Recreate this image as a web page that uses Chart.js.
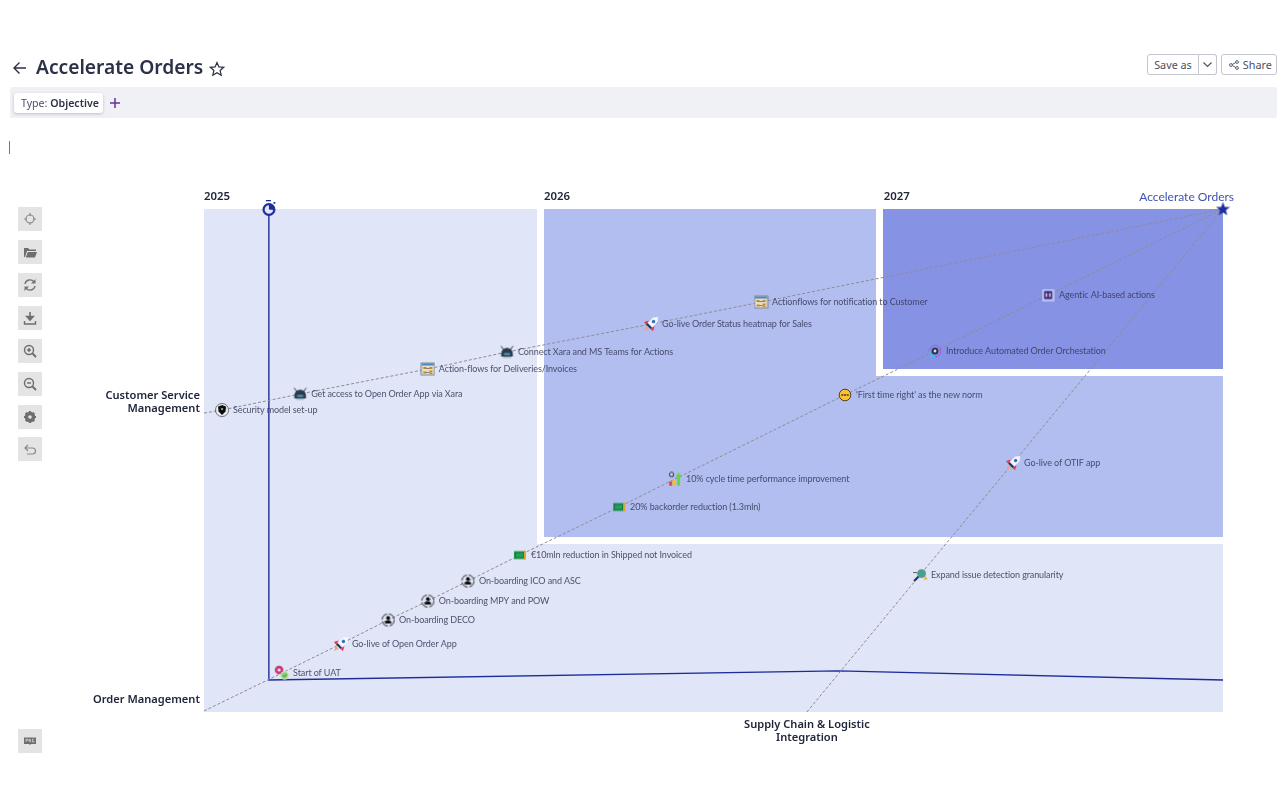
<!DOCTYPE html>
<html>
<head>
<meta charset="utf-8">
<title>Accelerate Orders</title>
<script src="https://cdn.jsdelivr.net/npm/chart.js@4"></script>
<style>
	html, body { margin: 0; padding: 0; background: #fff; width: 1280px; height: 800px; overflow: hidden; font-family: "Noto Sans", sans-serif; color: #2b3147; }
	#roadmap { position: absolute; left: 0; top: 0; }
	.abs { position: absolute; }
	#title { left: 36px; top: 53px; font-size: 19.2px; font-weight: 600; line-height: 28px; white-space: nowrap; }
	#filterBar { left: 10px; top: 87px; width: 1267px; height: 31px; background: #f0f1f5; border-radius: 2px; }
	#chip { left: 14px; top: 93px; width: 89px; height: 20px; background: #fff; border-radius: 3px; box-shadow: 0 1px 3px rgba(40,40,70,.25); font-size: 10.6px; line-height: 20px; text-indent: 7px; color: #4b5063; white-space: nowrap; }
	#chip b { color: #2b3147; font-weight: 600; }
	#caret { left: 9px; top: 141px; width: 1px; height: 13px; background: #777; }
	.btn { top: 54px; height: 19px; border: 1px solid #c3c6d1; background: #fff; font-size: 10.8px; line-height: 19px; color: #4b5063; box-sizing: content-box; text-align: center; }
	.tool { left: 18px; width: 24px; height: 24px; background: #e4e4e4; }
	.tool svg { display: block; width: 24px; height: 24px; }
</style>
</head>
<body>
<canvas id="roadmap" width="1280" height="800"></canvas>

<svg class="abs" style="left:12px;top:60px" width="16" height="16" viewBox="0 0 16 16"><path d="M14 8H2.5M7.5 2.5 2 8l5.500 5.500" fill="none" stroke="#2b3147" stroke-width="1.400"/></svg>
<div class="abs" id="title">Accelerate Orders</div>
<svg class="abs" style="left:209px;top:61px" width="16" height="16" viewBox="0 0 16 16"><path d="M8 1.500 9.900 5.900 14.700 6.300 11.100 9.500 12.200 14.200 8 11.700 3.800 14.200 4.900 9.500 1.300 6.300 6.100 5.900Z" fill="none" stroke="#2b3147" stroke-width="1.200"/></svg>
<div class="abs btn" style="left:1147px;width:50px;border-radius:3px 0 0 3px">Save as</div>
<div class="abs btn" style="left:1199px;width:17px;border-left:none;border-radius:0 3px 3px 0"><svg width="11" height="11" viewBox="0 0 11 11" style="margin-top:4px"><path d="M1.500 3.500 5.500 7.500 9.500 3.500" fill="none" stroke="#4b5063" stroke-width="1.100"/></svg></div>
<div class="abs btn" style="left:1221px;width:54px;border-radius:3px;text-align:left"><svg width="10" height="10" viewBox="0 0 10 10" style="margin:0 1px 0 7px;vertical-align:-1px"><g fill="none" stroke="#4b5063" stroke-width=".9"><circle cx="2" cy="5" r="1.400"/><circle cx="8" cy="2" r="1.400"/><circle cx="8" cy="8" r="1.400"/><path d="M3.300 4.400 6.700 2.600M3.300 5.600 6.700 7.400"/></g></svg> Share</div>
<div class="abs" id="filterBar"></div>
<div class="abs" id="chip">Type: <b>Objective</b></div>
<svg class="abs" style="left:109px;top:97px" width="12" height="12" viewBox="0 0 12 12"><path d="M6 1v10M1 6h10" stroke="#6b2fa0" stroke-width="1.500"/></svg>
<div class="abs" id="caret"></div>

<div class="abs tool" style="top:207px"><svg viewBox="0 0 24 24"><g fill="none" stroke="#8a8a8a" stroke-width="1.200"><circle cx="12" cy="12" r="4"/><path d="M12 6v3M12 15v3M6 12h3M15 12h3"/></g></svg></div>
<div class="abs tool" style="top:240px"><svg viewBox="0 0 24 24"><path d="M6 8h4l1.500 1.500H18V11H9l-2 6H6ZM9.800 12H19l-2 5.500H7.800Z" fill="#6e6e6e"/></svg></div>
<div class="abs tool" style="top:273px"><svg viewBox="0 0 24 24"><g fill="none" stroke="#767676" stroke-width="1.400"><path d="M7 11a5 5 0 0 1 9-2M17 13a5 5 0 0 1-9 2"/></g><path d="M17.500 6v4.500H13ZM6.500 18v-4.500H11Z" fill="#767676"/></svg></div>
<div class="abs tool" style="top:306px"><svg viewBox="0 0 24 24"><path d="M12 6v7M8.800 10.500 12 14l3.200-3.500Z" stroke="#6e6e6e" stroke-width="1.600" fill="#6e6e6e"/><path d="M6.500 15v3h11v-3" fill="none" stroke="#6e6e6e" stroke-width="1.400"/></svg></div>
<div class="abs tool" style="top:339px"><svg viewBox="0 0 24 24"><g fill="none" stroke="#6e6e6e" stroke-width="1.400"><circle cx="11" cy="11" r="4.500"/><path d="M14.500 14.500 18 18" stroke-width="2"/><path d="M9 11h4M11 9v4"/></g></svg></div>
<div class="abs tool" style="top:372px"><svg viewBox="0 0 24 24"><g fill="none" stroke="#6e6e6e" stroke-width="1.400"><circle cx="11" cy="11" r="4.500"/><path d="M14.500 14.500 18 18" stroke-width="2"/><path d="M9 11h4"/></g></svg></div>
<div class="abs tool" style="top:405px"><svg viewBox="0 0 24 24"><circle cx="12" cy="12" r="3.800" fill="none" stroke="#6e6e6e" stroke-width="3"/><path d="M12 6v12M6 12h12M7.800 7.800l8.400 8.400M16.200 7.800l-8.400 8.400" stroke="#6e6e6e" stroke-width="2.200"/><circle cx="12" cy="12" r="1.800" fill="#e4e4e4"/></svg></div>
<div class="abs tool" style="top:437px"><svg viewBox="0 0 24 24"><path d="M10 8 7 11l3 3M7 11h7.500a3 3 0 0 1 0 6H9" fill="none" stroke="#8a8a8a" stroke-width="1.200"/></svg></div>
<div class="abs tool" style="top:729px"><svg viewBox="0 0 24 24"><path d="M6 8.500h12v6.500h-5l-1 1-1-1H6Z" fill="#6e6e6e"/><path d="M8 10v3M8 10h1.500v1.300H8M11 13v-3l1.500 3v-3M16 10h-1.500v3H16v-1.300" fill="none" stroke="#e4e4e4" stroke-width=".6"/></svg></div>

<script>
// years on x (2025 = left edge), capability levels on y (0 = bottom)
var yearTicks = [2025, 2026, 2027];
var axisNames = ["Customer Service|Management", "Order Management", "Supply Chain & Logistic|Integration"];
var axisNameX = [2024.988, 2024.988, 2026.775];
var axisNameY = [1.887, 0.075, -0.075];

// customer service line
var csmLabels = ["Security model set-up", "Get access to Open Order App via Xara", "Action-flows for Deliveries/Invoices", "Connect Xara and MS Teams for Actions", "Go-live Order Status heatmap for Sales", "Actionflows for notification to Customer"];
var csmIcons = ["shield", "bot", "flows", "bot", "rocket", "flows"];
var csmX = [2025.053, 2025.283, 2025.659, 2025.892, 2026.316, 2026.640];
var csmY = [1.801, 1.897, 2.046, 2.147, 2.314, 2.445];

// order management line
var omLabels = ["Start of UAT", "Go-live of Open Order App", "On-boarding DECO", "On-boarding MPY and POW", "On-boarding ICO and ASC", "€10mln reduction in Shipped not Invoiced", "20% backorder reduction (1.3mln)", "10% cycle time performance improvement", "'First time right' as the new norm", "Introduce Automated Order Orchestation", "Agentic AI-based actions"];
var omIcons = ["uat", "rocket", "person", "person", "person", "money", "money", "bars", "fresh", "orbit", "ai"];
var omX = [2025.230, 2025.403, 2025.542, 2025.659, 2025.777, 2025.930, 2026.222, 2026.387, 2026.887, 2027.152, 2027.485];
var omY = [0.233, 0.406, 0.549, 0.662, 0.781, 0.936, 1.223, 1.390, 1.891, 2.153, 2.487];

// supply chain line
var scLabels = ["Expand issue detection granularity", "Go-live of OTIF app"];
var scIcons = ["scope", "rocket"];
var scX = [2027.108, 2027.382];
var scY = [0.817, 1.485];

// where each dashed line starts and the objective they all end on
var startX = [2025.000, 2025.000, 2026.775];
var startY = [1.783, 0.006, 0.000];
var goalX = [2028];
var goalY = [3];
var goalName = "Accelerate Orders";

// today marker
var todayX = [2025.191, 2025.191, 2026.867, 2028];
var todayY = [3, 0.191, 0.245, 0.191];

// coloured regions, each one x0, x1, y0, y1
var zoneLight = [[2025, 2025.980, 0, 3], [2025.980, 2028, 0, 1.002]];
var zoneMiddle = [[2026.001, 2026.978, 1.044, 3], [2026.978, 2028, 1.044, 2.004]];
var zoneDark = [[2026.999, 2028, 2.046, 3]];

var NAVY = "#1c2c9a";

function makeIcon(w, h, draw){
	var c = document.createElement("canvas");
	c.width = w;
	c.height = h;
	draw(c.getContext("2d"));
	return c;
}

function disc(g, x, y, r, fill, stroke, lw){
	g.beginPath();
	g.arc(x, y, r, 0, Math.PI * 2);
	if(fill){ g.fillStyle = fill; g.fill(); }
	if(stroke){ g.strokeStyle = stroke; g.lineWidth = lw || 1; g.stroke(); }
}

function poly(g, pts, fill){
	g.beginPath();
	g.moveTo(pts[0], pts[1]);
	for(var i = 2; i < pts.length; i += 2){ g.lineTo(pts[i], pts[i + 1]); }
	g.closePath();
	g.fillStyle = fill;
	g.fill();
}

var icons = {
	shield: makeIcon(16, 16, function(g){
		disc(g, 8, 8, 6.500, "rgba(255,255,255,.6)", "#333", 0.7);
		poly(g, [4,4.500, 8,3, 12,4.500, 11.500,9.500, 8,13, 4.500,9.500], "#0c0c0c");
		disc(g, 8, 7, 1.100, "#bbb");
	}),
	bot: makeIcon(15, 15, function(g){
		g.strokeStyle = "#222";
		g.lineWidth = 0.9;
		g.beginPath(); g.moveTo(1.500,1.500); g.lineTo(4,5); g.moveTo(13.500,1.500); g.lineTo(11,5); g.stroke();
		g.fillStyle = "#2b3a4a";
		g.beginPath(); g.arc(7.500, 9, 5.800, Math.PI, 0); g.lineTo(13.300, 12); g.lineTo(1.700, 12); g.closePath(); g.fill();
		g.fillStyle = "#4aa0cc";
		g.fillRect(4.500, 8.500, 6, 2);
		g.fillStyle = "#a9bcc4";
		g.fillRect(3.500, 12, 8, 1.500);
	}),
	flows: makeIcon(15, 14, function(g){
		g.fillStyle = "#e9dfc9"; g.fillRect(1, 1, 13, 12);
		g.strokeStyle = "#7d8796"; g.lineWidth = 1; g.strokeRect(1, 1, 13, 12);
		g.fillStyle = "#4b86c5"; g.fillRect(1.500, 1.500, 12, 2);
		g.fillStyle = "#b98a2c";
		g.fillRect(3, 5, 3, 2); g.fillRect(9, 5, 3, 2); g.fillRect(3, 9.500, 3, 2); g.fillRect(9, 8.500, 3, 1.500); g.fillRect(9, 10.500, 3, 1.500);
		g.fillStyle = "#555"; g.fillRect(6, 6, 3, 0.700); g.fillRect(6, 10, 3, 0.700);
	}),
	rocket: makeIcon(16, 16, function(g){
		poly(g, [15,1, 10,1.500, 4.500,7, 9,11.500, 14.500,6], "#f6f6ff");
		disc(g, 10.500, 5.500, 1.700, "#2a6fb8");
		poly(g, [4.500,7, 9,11.500, 7.500,13, 3,8.500], "#1f2f58");
		poly(g, [6,4.500, 1,6, 3,8.500], "#e52b46");
		poly(g, [11.500,10, 10,15, 7.500,13], "#e52b46");
		poly(g, [3,10, 6,13, 1,15], "#eda873");
	}),
	person: makeIcon(15, 15, function(g){
		g.setLineDash([7.500, 2]);
		disc(g, 7.500, 7.500, 6, null, "#111", 0.9);
		g.setLineDash([]);
		disc(g, 7.500, 5.500, 1.900, "#0c0c0c");
		g.fillStyle = "#0c0c0c";
		g.beginPath(); g.arc(7.500, 11, 3.300, Math.PI, 0); g.closePath(); g.fill();
	}),
	money: makeIcon(14, 11, function(g){
		g.fillStyle = "#25a058"; g.fillRect(1, 1.500, 11, 8);
		g.strokeStyle = "#146b3e"; g.lineWidth = 0.8; g.strokeRect(2.500, 3, 8, 5);
		g.fillStyle = "#d9a528"; g.fillRect(11, 1, 2, 9);
	}),
	uat: makeIcon(16, 16, function(g){
		disc(g, 5, 5, 4.300, "#c83a78");
		disc(g, 5, 5, 1.600, "#f7dfe8");
		disc(g, 10.500, 10.500, 3.900, "#8fd07a", "#d7f0ce", 0.8);
		g.strokeStyle = "#2f7d34"; g.lineWidth = 0.9;
		g.beginPath(); g.moveTo(9,10.500); g.lineTo(10.200,11.800); g.lineTo(12.300,9.300); g.stroke();
	}),
	bars: makeIcon(14, 15, function(g){
		disc(g, 3.500, 3, 2, "#dfe6f4", "#33415c", 1.100);
		g.fillStyle = "#e14b4b"; g.fillRect(1, 10, 3, 4.500);
		g.fillStyle = "#f0c02f"; g.fillRect(4.500, 8, 3, 6.500);
		g.fillStyle = "#63d64a"; g.fillRect(9, 5, 3, 9.500);
		poly(g, [7,5.500, 10.500,1, 14,5.500], "#63d64a");
	}),
	fresh: makeIcon(14, 14, function(g){
		disc(g, 7, 7, 5.800, "#fdc02f", "#4d4327", 1);
		g.fillStyle = "#3a2f12";
		g.fillRect(3.300, 6.300, 2, 1.400); g.fillRect(6, 6.300, 2, 1.400); g.fillRect(8.700, 6.300, 2, 1.400);
	}),
	orbit: makeIcon(14, 14, function(g){
		disc(g, 7, 7, 5.800, null, "#b44fe0", 0.9);
		g.strokeStyle = "#37c6e8"; g.lineWidth = 1.400;
		g.beginPath(); g.arc(7, 7, 5.800, Math.PI * 0.5, Math.PI); g.stroke();
		disc(g, 7, 7, 3.500, "#2e3650");
		disc(g, 7, 7, 1.400, "#d8dceb");
	}),
	ai: makeIcon(13, 13, function(g){
		g.fillStyle = "#c6c8f6"; g.fillRect(0.500, 0.500, 12, 12);
		g.fillStyle = "#2c2470"; g.fillRect(2.500, 2.500, 8, 8);
		g.fillStyle = "#f4d0e8"; g.fillRect(4, 4.500, 1.500, 4); g.fillRect(7.500, 4.500, 1.500, 4);
	}),
	scope: makeIcon(16, 16, function(g){
		g.strokeStyle = "#16324f"; g.lineWidth = 2;
		g.beginPath(); g.moveTo(2,14); g.lineTo(7,9); g.stroke();
		disc(g, 9.500, 6.500, 4, "#3aa595", "#7d8c8c", 1);
		poly(g, [11.500,12.500, 13.500,9, 15.500,12.500], "#e8b32a");
		g.fillStyle = "#222"; g.fillRect(1, 5, 4, 0.700);
	}),
	star: makeIcon(15, 15, function(g){
		poly(g, [7.500,0.500, 9.300,5.400, 14.500,5.600, 10.400,8.800, 11.800,13.800, 7.500,11, 3.200,13.800, 4.600,8.800, 0.500,5.600, 5.700,5.400], NAVY);
	}),
	stopwatch: makeIcon(16, 20, function(g){
		g.fillStyle = NAVY;
		g.fillRect(5, 1, 5, 1.300);
		disc(g, 8, 10.500, 5.400, "#e0e5f7", NAVY, 2.200);
		g.beginPath(); g.moveTo(8,10.500); g.lineTo(8,5.500); g.arc(8, 10.500, 5, -Math.PI / 2, 0.1); g.closePath();
		g.fillStyle = NAVY;
		g.fill();
		g.fillRect(12.500, 3, 1.800, 1.800);
	})
};

function toPoints(xs, ys){
	var out = [];
	for(var i = 0; i < xs.length; i++){
		out.push({x: xs[i], y: ys[i]});
	}
	return out;
}

// one dashed line: invisible start, the milestones, then the objective
function objectiveLine(idx, xs, ys, iconNames, labels){
	var styles = [false];
	var names = [""];
	for(var i = 0; i < iconNames.length; i++){
		styles.push(icons[iconNames[i]]);
		names.push(labels[i]);
	}
	styles.push(false);
	names.push("");
	return {
		type: "scatter",
		showLine: true,
		data: toPoints([startX[idx]].concat(xs, goalX), [startY[idx]].concat(ys, goalY)),
		names: names,
		borderColor: "#8c8c90",
		borderWidth: 1,
		borderDash: [3, 2],
		pointStyle: styles,
		pointRadius: 7,
		clip: false,
		order: 2
	};
}

var zonePlugin = {
	id: "zones",
	beforeDatasetsDraw: function(chart){
		var g = chart.ctx, sx = chart.scales.x, sy = chart.scales.y;
		function paint(list, color){
			g.fillStyle = color;
			list.forEach(function(z){
				var x0 = Math.round(sx.getPixelForValue(z[0])), x1 = Math.round(sx.getPixelForValue(z[1]));
				var y0 = Math.round(sy.getPixelForValue(z[2])), y1 = Math.round(sy.getPixelForValue(z[3]));
				g.fillRect(x0, y1, x1 - x0, y0 - y1);
			});
		}
		paint(zoneLight, "#e0e5f7");
		paint(zoneMiddle, "#b3bef0");
		paint(zoneDark, "#8693e5");
	}
};

var textPlugin = {
	id: "texts",
	afterDatasetsDraw: function(chart){
		var g = chart.ctx, sx = chart.scales.x, sy = chart.scales.y;
		g.save();
		g.textBaseline = "middle";

		// milestone labels
		g.font = "9px Lato";
		g.letterSpacing = "-0.1px";
		g.fillStyle = "rgba(50,55,85,0.85)";
		g.textAlign = "left";
		chart.data.datasets.forEach(function(ds, d){
			if(!ds.names){ return; }
			var meta = chart.getDatasetMeta(d);
			ds.names.forEach(function(n, i){
				if(n){ g.fillText(n, meta.data[i].x + 11, meta.data[i].y); }
			});
		});
		g.letterSpacing = "0px";

		// year headings
		g.font = "600 11.4px 'Noto Sans'";
		g.fillStyle = "#22263a";
		yearTicks.forEach(function(y){
			g.fillText(String(y), sx.getPixelForValue(y + (y > 2025 ? 0.001 : 0)), sy.getPixelForValue(3) - 12);
		});

		// axis names
		g.font = "600 11.1px 'Noto Sans'";
		axisNames.forEach(function(name, i){
			var lines = name.split("|");
			g.textAlign = i == 2 ? "center" : "right";
			lines.forEach(function(line, k){
				g.fillText(line, sx.getPixelForValue(axisNameX[i]), sy.getPixelForValue(axisNameY[i]) + k * 13);
			});
		});

		// objective name
		g.font = "12px Lato";
		g.fillStyle = "#4052b0";
		g.textAlign = "right";
		g.fillText(goalName, sx.getPixelForValue(goalX[0]) + 11, sy.getPixelForValue(goalY[0]) - 11.5);
		g.restore();
	}
};

var roadmap = new Chart(document.getElementById("roadmap"), {
	type: "scatter",
	plugins: [zonePlugin, textPlugin],
	data: {
		datasets: [
			objectiveLine(0, csmX, csmY, csmIcons, csmLabels),
			objectiveLine(1, omX, omY, omIcons, omLabels),
			objectiveLine(2, scX, scY, scIcons, scLabels),
			{
				type: "scatter",
				showLine: true,
				data: toPoints(todayX, todayY),
				borderColor: NAVY,
				borderWidth: 1.4,
				pointStyle: [icons.stopwatch, false, false, false],
				pointRadius: 8,
				clip: false,
				order: 3
			},
			{
				type: "scatter",
				data: toPoints(goalX, goalY),
				pointStyle: icons.star,
				pointRadius: 7,
				clip: false,
				order: 1
			}
		]
	},
	options: {
		responsive: false,
		animation: false,
		events: [],
		layout: { padding: { left: 204, right: 57, top: 209, bottom: 88 } },
		plugins: { legend: { display: false }, tooltip: { enabled: false } },
		scales: {
			x: { type: "linear", min: 2025, max: 2028, display: false },
			y: { type: "linear", min: 0, max: 3, display: false }
		}
	}
});
</script>
</body>
</html>
